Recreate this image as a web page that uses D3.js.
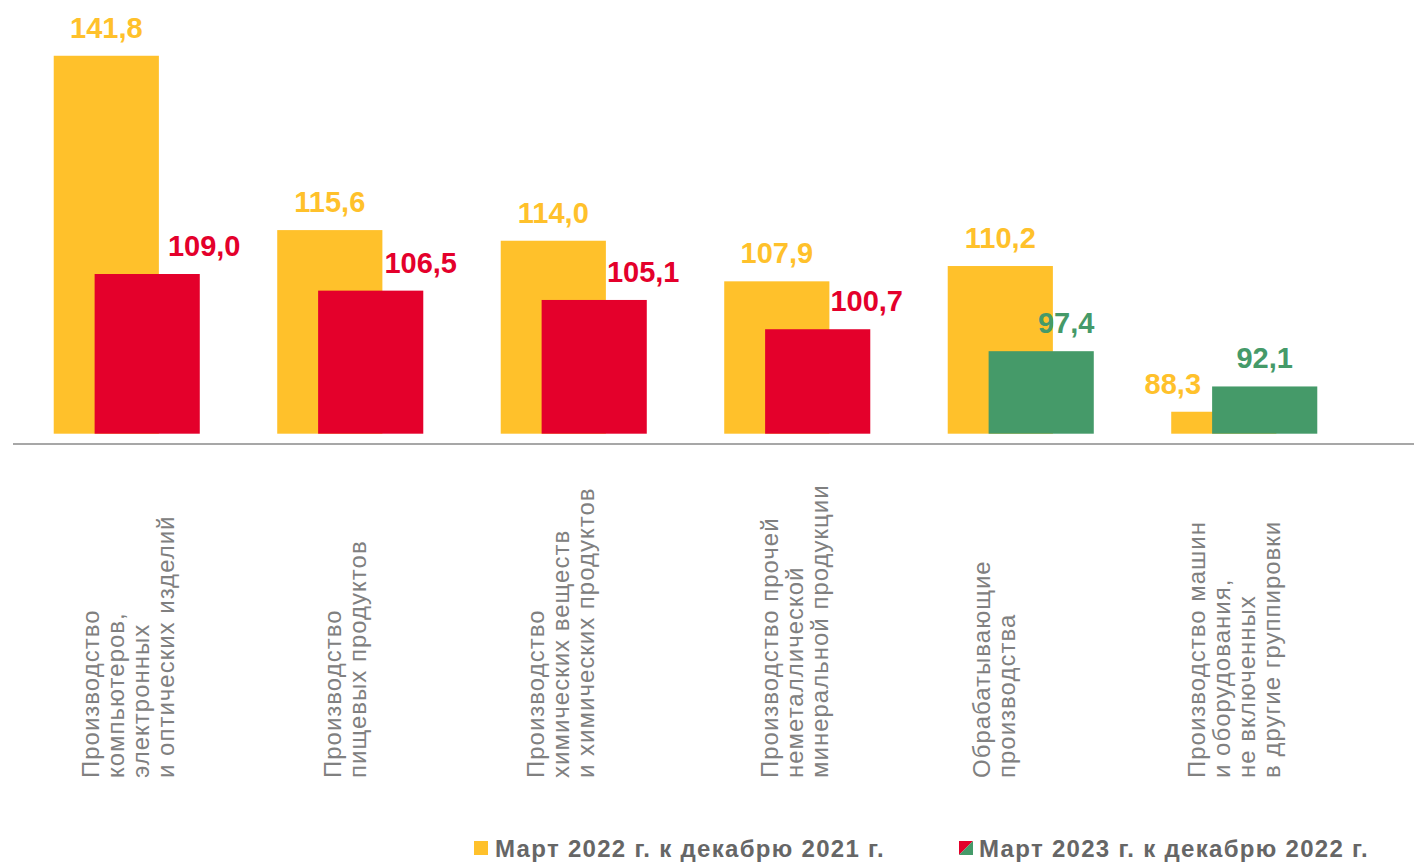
<!DOCTYPE html>
<html>
<head>
  <meta charset="utf-8">
  <title>Индексы производства</title>
  <script src="https://cdn.jsdelivr.net/npm/d3@7"></script>
  <style>
    body { margin: 0; background: #fff; }
    svg text { font-family: "Liberation Sans", Arial, sans-serif; }
  </style>
</head>
<body>
<script>
// данные
var categories = [
  ["Производство", "компьютеров,", "электронных", "и оптических изделий"],
  ["Производство", "пищевых продуктов"],
  ["Производство", "химических веществ", "и химических продуктов"],
  ["Производство прочей", "неметаллической", "минеральной продукции"],
  ["Обрабатывающие", "производства"],
  ["Производство машин", "и оборудования,", "не включенных", "в другие группировки"]
];
var march2022 = [141.8, 115.6, 114.0, 107.9, 110.2, 88.3];
var march2023 = [109.0, 106.5, 105.1, 100.7, 97.4, 92.1];
var seriesNames = ["Март 2022 г. к декабрю 2021 г.", "Март 2023 г. к декабрю 2022 г."];

// сдвиги подписей значений, чтобы не налезали друг на друга
var labelDxA = [0, 0, 0, 0, 0, -51];
var labelDxB = [57, 50, 49, 49, 25, 0];
var labelDxCat = [2, -5, -13, -2, -26, -10];

var width = 1414, height = 863;
var yellow = "#FFC12B", red = "#E4002B", green = "#459A69";
var fmt = function(v) { return v.toFixed(1).replace(".", ","); };

var svg = d3.select("body").append("svg").attr("width", width).attr("height", height);

var idx = d3.range(categories.length);

var x = d3.scaleBand()
  .domain(idx)
  .range([15, 1356])
  .paddingInner(0.3465)
  .paddingOuter(0.3465 / 2);

var barW = x.bandwidth() * 0.72;

var y = d3.scaleLinear()
  .domain([85, 150])
  .range([433.7, 1.2]);

// ось
svg.append("line")
  .attr("x1", 13).attr("x2", width)
  .attr("y1", 444).attr("y2", 444)
  .attr("stroke", "#8a8a8a")
  .attr("stroke-width", 1.6);

// столбцы 2022
svg.selectAll(".barA")
  .data(idx)
  .enter().append("rect")
  .attr("x", function(i) { return x(i); })
  .attr("y", function(i) { return y(march2022[i]); })
  .attr("width", barW)
  .attr("height", function(i) { return y(85) - y(march2022[i]); })
  .attr("fill", yellow);

// столбцы 2023
var colorB = function(v) { return v < 100 ? green : red; };
svg.selectAll(".barB")
  .data(idx)
  .enter().append("rect")
  .attr("x", function(i) { return x(i) + x.bandwidth() - barW; })
  .attr("y", function(i) { return y(march2023[i]); })
  .attr("width", barW)
  .attr("height", function(i) { return y(85) - y(march2023[i]); })
  .attr("fill", function(i) { return colorB(march2023[i]); });

// подписи значений
svg.selectAll(".lblA")
  .data(idx)
  .enter().append("text")
  .attr("x", function(i) { return x(i) + barW / 2 + labelDxA[i]; })
  .attr("y", function(i) { return y(march2022[i]) - 18; })
  .attr("text-anchor", "middle")
  .attr("font-size", "29px")
  .attr("font-weight", "bold")
  .attr("fill", yellow)
  .text(function(i) { return fmt(march2022[i]); });

svg.selectAll(".lblB")
  .data(idx)
  .enter().append("text")
  .attr("x", function(i) { return x(i) + x.bandwidth() - barW / 2 + labelDxB[i]; })
  .attr("y", function(i) { return y(march2023[i]) - 18; })
  .attr("text-anchor", "middle")
  .attr("font-size", "29px")
  .attr("font-weight", "bold")
  .attr("fill", function(i) { return colorB(march2023[i]); })
  .text(function(i) { return fmt(march2023[i]); });

// подписи категорий (повернутые)
var lineH = 25;
svg.selectAll(".cat")
  .data(idx)
  .enter().append("text")
  .attr("transform", function(i) {
    var n = categories[i].length;
    var cx = x(i) + x.bandwidth() / 2 + labelDxCat[i];
    var x0 = cx - (n - 1) * lineH / 2 + 8;
    return "translate(" + x0 + ",778) rotate(-90)";
  })
  .attr("font-size", "24px")
  .attr("letter-spacing", "1px")
  .attr("fill", "#808080")
  .each(function(i) {
    d3.select(this).selectAll("tspan")
      .data(categories[i])
      .enter().append("tspan")
      .attr("x", 0)
      .attr("dy", function(d, k) { return k === 0 ? 0 : lineH; })
      .text(function(d) { return d; });
  });

// легенда
var leg = svg.append("g");
leg.append("rect").attr("x", 474).attr("y", 841).attr("width", 14).attr("height", 14).attr("fill", yellow);
leg.append("text").attr("x", 495).attr("y", 857)
  .attr("font-size", "24px").attr("letter-spacing", "1.3px")
  .attr("font-weight", "bold").attr("fill", "#666666")
  .text(seriesNames[0]);

leg.append("path").attr("d", "M959,841 L973,841 L959,855 Z").attr("fill", red);
leg.append("path").attr("d", "M973,841 L973,855 L959,855 Z").attr("fill", green);
leg.append("text").attr("x", 979).attr("y", 857)
  .attr("font-size", "24px").attr("letter-spacing", "1.3px")
  .attr("font-weight", "bold").attr("fill", "#666666")
  .text(seriesNames[1]);
</script>
</body>
</html>
